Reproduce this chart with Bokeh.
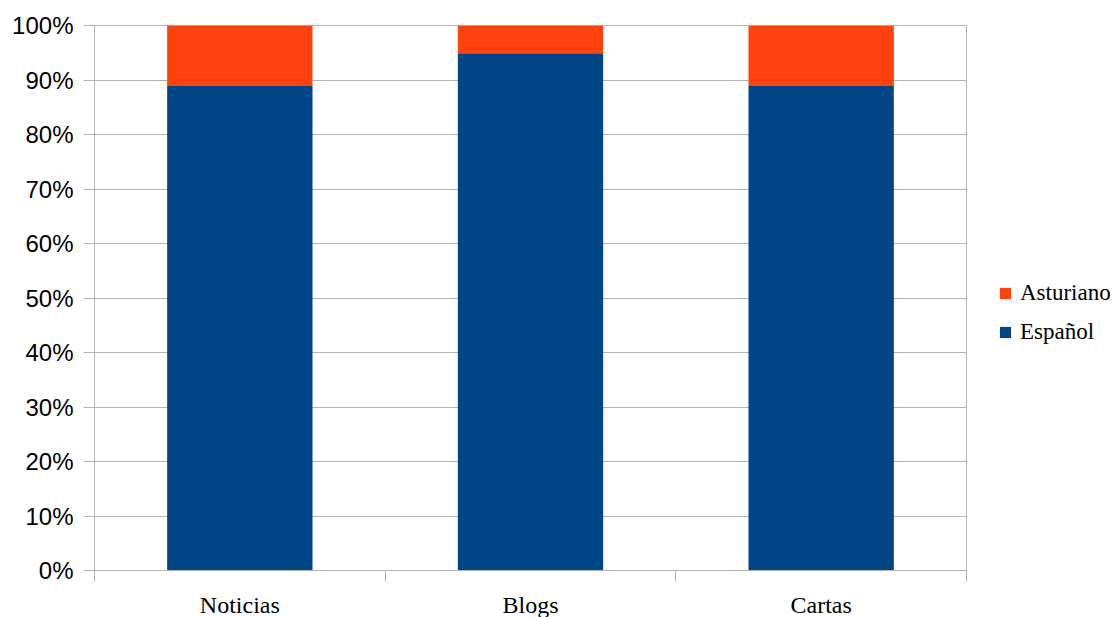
from bokeh.plotting import figure
from bokeh.models import (ColumnDataSource, FixedTicker, NumeralTickFormatter,
                          Range1d, Legend, LegendItem)
from bokeh.embed import file_html
from bokeh.resources import INLINE

categories = ["Noticias", "Blogs", "Cartas"]
espanol = [88.9, 94.9, 88.9]
asturiano = [11.1, 5.1, 11.1]
series_names = ["Español", "Asturiano"]
colors = ["#004586", "#ff420e"]
y_ticks = [0, 10, 20, 30, 40, 50, 60, 70, 80, 90, 100]

xpos = [i + 0.5 for i in range(len(categories))]
src = ColumnDataSource(dict(x=xpos,
                            esp=[v / 100 for v in espanol],
                            ast=[v / 100 for v in asturiano]))

GRAY = "#b3b3b3"

p = figure(frame_width=872, frame_height=545, output_backend="svg",
           toolbar_location=None, x_range=Range1d(0, len(categories)),
           y_range=Range1d(0, 1), min_border_left=94, min_border_top=25,
           min_border_right=10, min_border_bottom=10)

renderers = p.vbar_stack(["esp", "ast"], x="x", width=0.5, source=src,
                         color=colors, line_color=None)

p.outline_line_color = GRAY
p.background_fill_color = "white"
p.border_fill_color = "white"

p.xgrid.visible = False
p.ygrid.grid_line_color = GRAY
p.ygrid.grid_line_width = 1

p.yaxis.ticker = FixedTicker(ticks=[t / 100 for t in y_ticks])
p.yaxis.formatter = NumeralTickFormatter(format="0%")
p.yaxis.axis_line_color = GRAY
p.yaxis.major_tick_line_color = GRAY
p.yaxis.major_tick_out = 11
p.yaxis.major_tick_in = 0
p.yaxis.minor_tick_line_color = None
p.yaxis.major_label_text_font = "Liberation Sans"
p.yaxis.major_label_text_font_size = "24px"
p.yaxis.major_label_text_color = "black"
p.yaxis.major_label_standoff = 10

p.xaxis.ticker = FixedTicker(ticks=xpos, minor_ticks=list(range(len(categories) + 1)))
p.xaxis.major_label_overrides = {x: c for x, c in zip(xpos, categories)}
p.xaxis.axis_line_color = GRAY
p.xaxis.major_tick_line_color = None
p.xaxis.major_tick_out = 0
p.xaxis.major_tick_in = 0
p.xaxis.minor_tick_line_color = GRAY
p.xaxis.minor_tick_out = 11
p.xaxis.minor_tick_in = 0
p.xaxis.major_label_text_font = "Liberation Serif"
p.xaxis.major_label_text_font_size = "24px"
p.xaxis.major_label_text_color = "black"
p.xaxis.major_label_standoff = 10

items = [LegendItem(label=series_names[1], renderers=[renderers[1]]),
         LegendItem(label=series_names[0], renderers=[renderers[0]])]
legend = Legend(items=items, location=(32, 225), padding=0, margin=0,
                border_line_color=None, background_fill_alpha=0,
                glyph_width=14, glyph_height=14, label_standoff=8,
                label_text_font="Liberation Serif", label_text_font_size="23px",
                label_text_color="black", spacing=13, label_height=14)
p.add_layout(legend, "right")

open("out.html", "w").write(file_html(p, INLINE))
